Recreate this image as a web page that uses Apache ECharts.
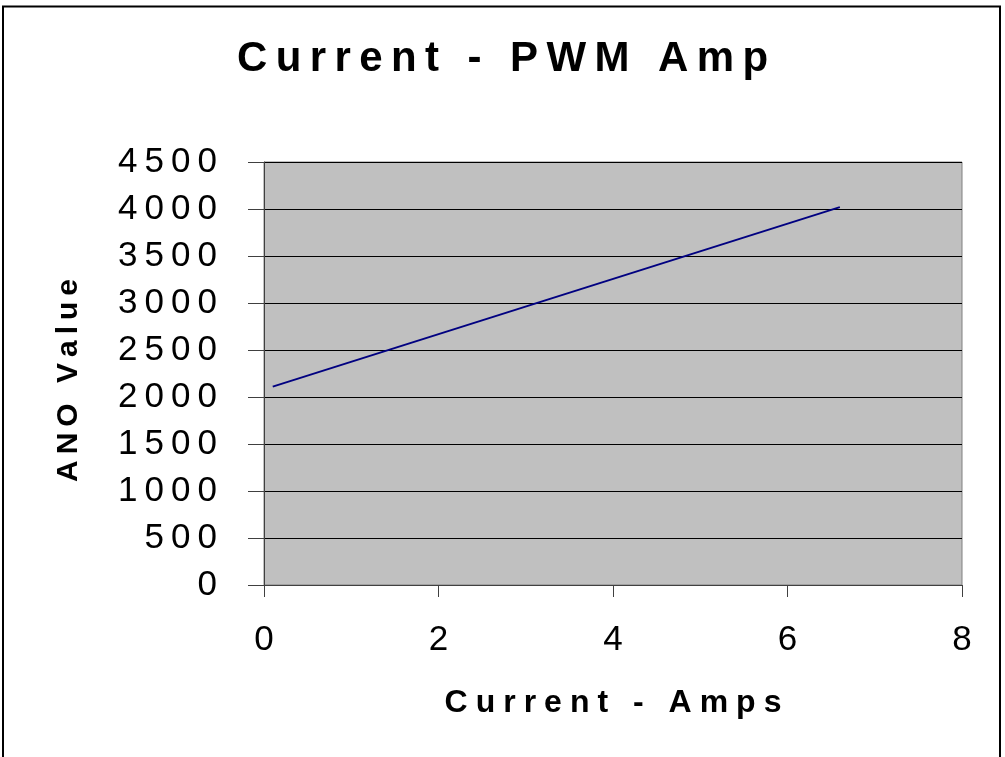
<!DOCTYPE html>
<html>
<head>
<meta charset="utf-8">
<title>Current - PWM Amp</title>
<script src="https://cdn.jsdelivr.net/npm/echarts@6/dist/echarts.min.js"></script>
<style>
  html, body { margin: 0; padding: 0; background: #fff; }
  #chart { width: 1005px; height: 757px; }
</style>
</head>
<body>
<div id="chart"></div>
<script>
// data
const currentAmps = [0.1, 6.6];
const anoValue = [2110, 4020];
const xTicks = [0, 2, 4, 6, 8];
const yTicks = [0, 500, 1000, 1500, 2000, 2500, 3000, 3500, 4000, 4500];

// the original uses wide character spacing
const spaced = (s, sp) => String(s).split('').join(sp);

const points = currentAmps.map((x, i) => [x, anoValue[i]]);
const font = '"Liberation Sans", Arial, sans-serif';

const chart = echarts.init(document.getElementById('chart'));
const option = {
  animation: false,
  backgroundColor: '#fff',
  title: {
    text: spaced('Current - PWM Amp', '\u2009'),
    left: 'center',
    top: 38,
    padding: 0,
    textStyle: { fontFamily: font, fontSize: 42, fontWeight: 'bold', color: '#000' }
  },
  graphic: [{
    type: 'rect',
    shape: { x: 3, y: 6.5, width: 997, height: 800 },
    style: { fill: 'none', stroke: '#000', lineWidth: 2 },
    silent: true
  }],
  grid: {
    left: 264, right: 43, top: 162, bottom: 172,
    show: true,
    backgroundColor: '#c0c0c0',
    borderColor: '#808080',
    borderWidth: 1
  },
  xAxis: {
    type: 'value',
    min: xTicks[0],
    max: xTicks[xTicks.length - 1],
    interval: 2,
    name: spaced('Current - Amps', '\u2005'),
    nameLocation: 'middle',
    nameGap: 102,
    nameTextStyle: { fontFamily: font, fontSize: 32, fontWeight: 'bold', color: '#000' },
    axisLine: { show: true, onZero: false, lineStyle: { color: '#404040', width: 1 } },
    axisTick: { show: true, inside: false, length: 12, lineStyle: { color: '#404040' } },
    axisLabel: { fontFamily: font, fontSize: 35, color: '#000', margin: 38 },
    splitLine: { show: false }
  },
  yAxis: {
    type: 'value',
    min: yTicks[0],
    max: yTicks[yTicks.length - 1],
    interval: 500,
    name: spaced('ANO Value', '\u2009'),
    nameLocation: 'middle',
    nameGap: 180,
    nameTextStyle: {
      fontFamily: font, fontSize: 30, fontWeight: 'bold', color: '#000',
      padding: [0, 14, 0, 0]
    },
    axisLine: { show: true, lineStyle: { color: '#404040', width: 1 } },
    axisTick: { show: true, inside: false, length: 16, lineStyle: { color: '#404040' } },
    axisLabel: {
      fontFamily: font, fontSize: 35, color: '#000', margin: 47,
      formatter: v => spaced(v, '\u2009')
    },
    splitLine: { show: true, lineStyle: { color: '#000', width: 1 } }
  },
  series: [{
    type: 'line',
    data: points,
    showSymbol: false,
    lineStyle: { color: '#000080', width: 2 }
  }]
};
chart.setOption(option);
</script>
</body>
</html>
